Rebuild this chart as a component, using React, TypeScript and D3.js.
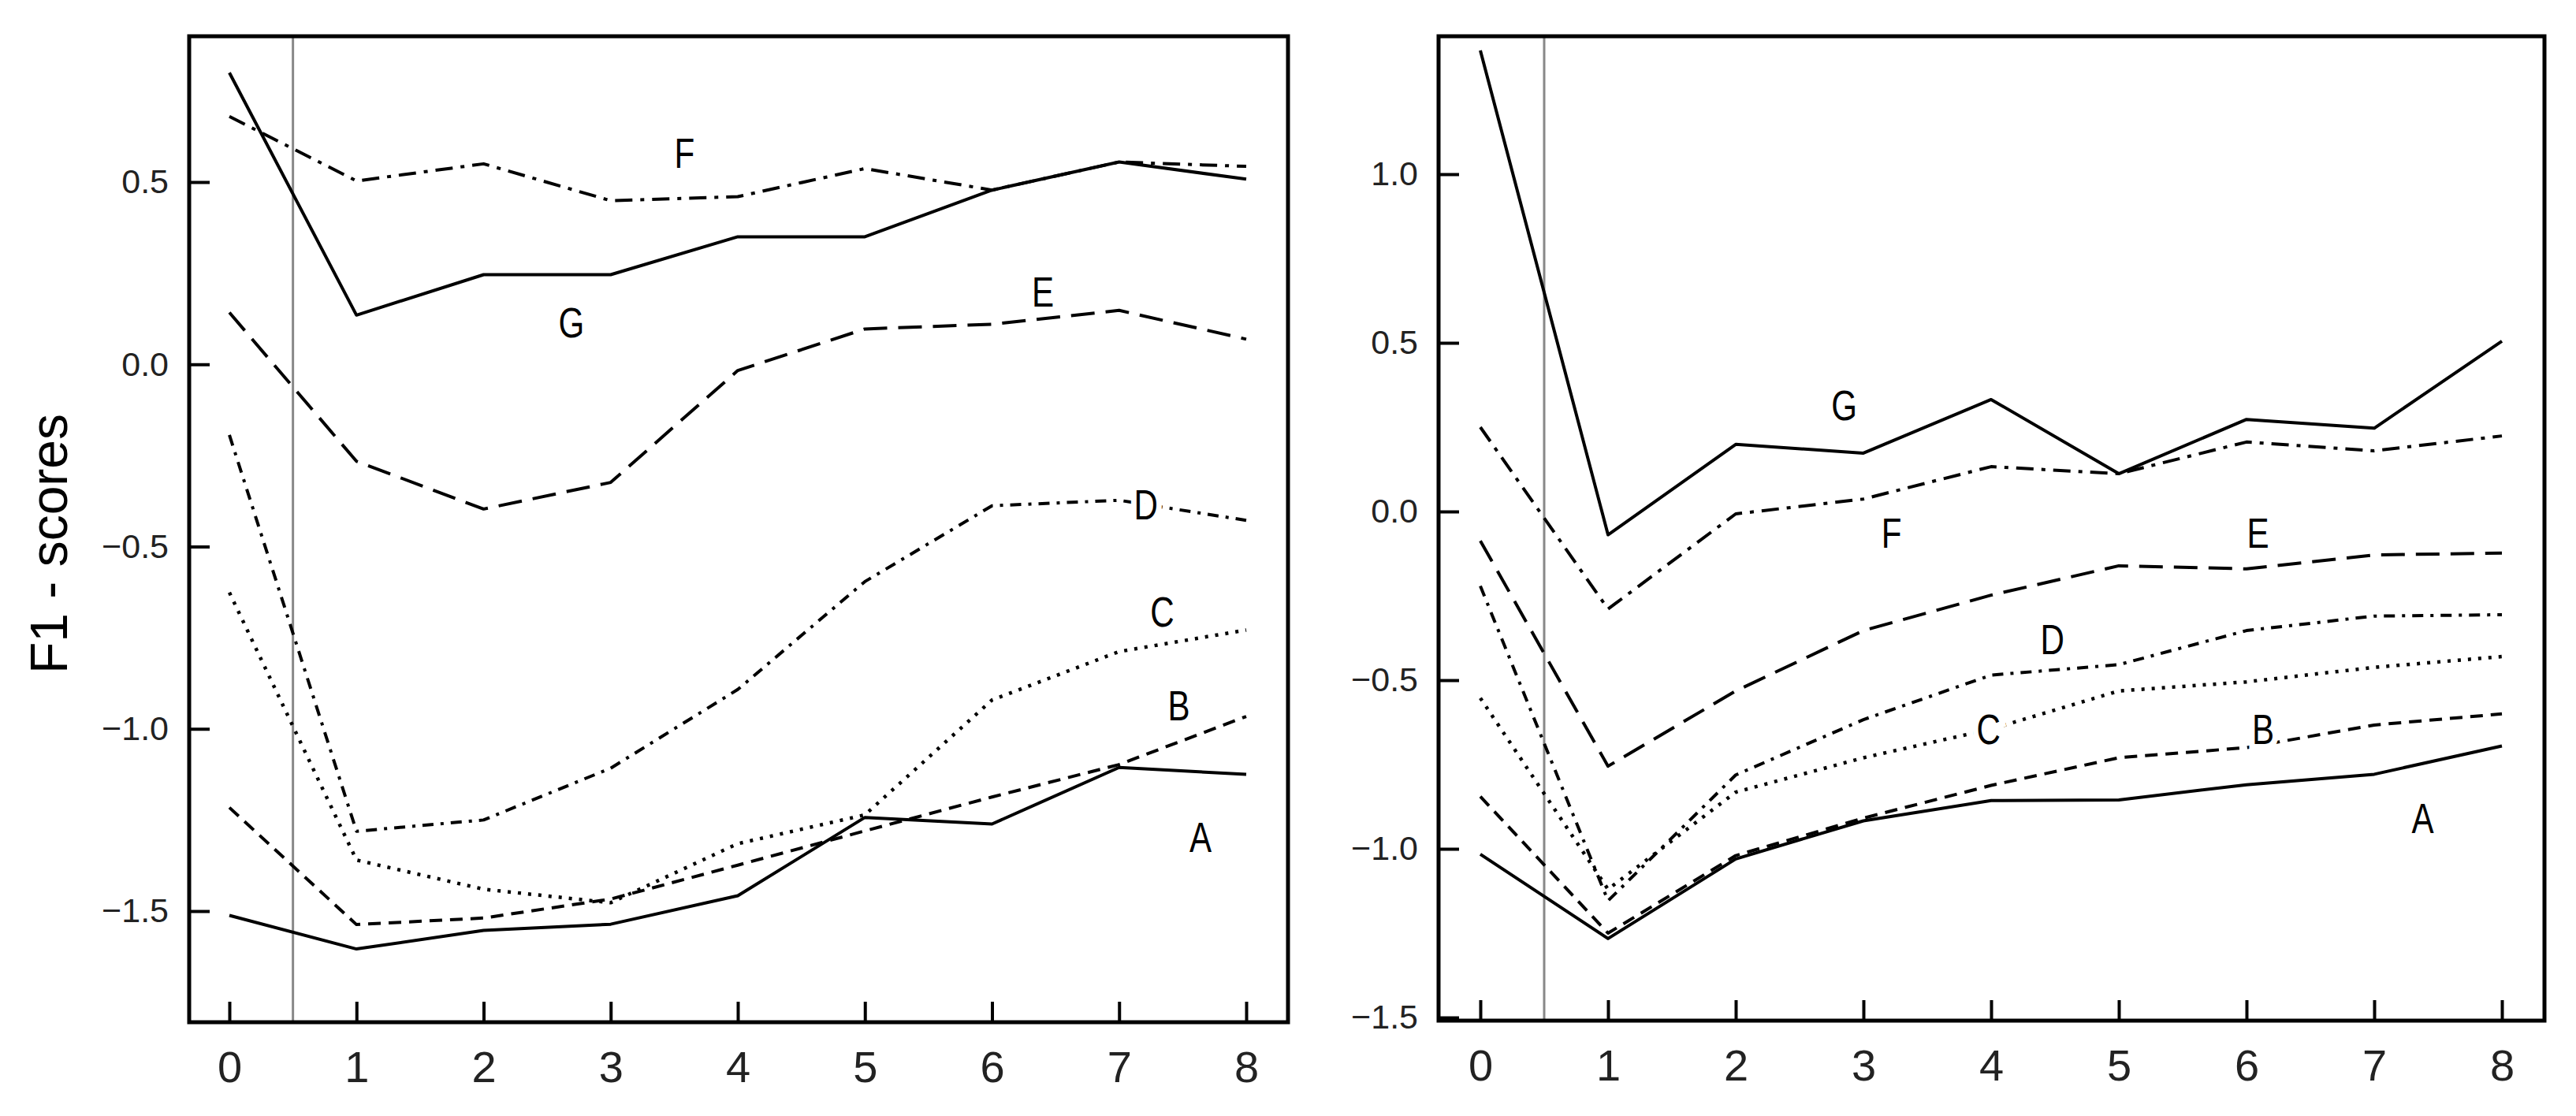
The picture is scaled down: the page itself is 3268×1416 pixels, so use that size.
import React, { useEffect, useRef } from "react";
import * as d3 from "d3";

const W = 3268;
const H = 1416;

const xTicks = [0, 1, 2, 3, 4, 5, 6, 7, 8];
const leftYTicks = [0.5, 0, -0.5, -1.0, -1.5];
const rightYTicks = [1.0, 0.5, 0, -0.5, -1.0, -1.5];
const seriesNames = ["A", "B", "C", "D", "E", "F", "G"];

// left panel
const leftA = [-1.512, -1.604, -1.553, -1.536, -1.458, -1.243, -1.261, -1.106, -1.125];
const leftB = [-1.216, -1.537, -1.519, -1.467, -1.374, -1.28, -1.187, -1.098, -0.966];
const leftC = [-0.626, -1.36, -1.44, -1.477, -1.315, -1.236, -0.921, -0.788, -0.729];
const leftD = [-0.194, -1.281, -1.25, -1.108, -0.892, -0.596, -0.388, -0.373, -0.428];
const leftE = [0.142, -0.266, -0.397, -0.324, -0.017, 0.097, 0.11, 0.148, 0.069];
const leftF = [0.68, 0.503, 0.55, 0.449, 0.46, 0.537, 0.478, 0.555, 0.543];
const leftG = [0.8, 0.135, 0.246, 0.246, 0.35, 0.35, 0.478, 0.555, 0.508];

// right panel
const rightA = [-1.016, -1.266, -1.03, -0.917, -0.857, -0.855, -0.81, -0.779, -0.695];
const rightB = [-0.845, -1.25, -1.02, -0.909, -0.812, -0.73, -0.7, -0.633, -0.6];
const rightC = [-0.553, -1.12, -0.832, -0.73, -0.645, -0.532, -0.505, -0.462, -0.43];
const rightD = [-0.221, -1.154, -0.781, -0.617, -0.485, -0.454, -0.353, -0.31, -0.306];
const rightE = [-0.087, -0.755, -0.532, -0.353, -0.248, -0.161, -0.17, -0.129, -0.123];
const rightF = [0.25, -0.289, -0.007, 0.037, 0.133, 0.112, 0.206, 0.18, 0.224];
const rightG = [1.367, -0.069, 0.199, 0.173, 0.332, 0.112, 0.273, 0.247, 0.505];

// label anchor points, in data units
const leftLabelX = [7.64, 7.47, 7.34, 7.21, 6.4, 3.58, 2.69];
const leftLabelY = [-1.297, -0.935, -0.678, -0.385, 0.2, 0.58, 0.115];
const rightLabelX = [7.38, 6.13, 3.98, 4.48, 6.09, 3.22, 2.85];
const rightLabelY = [-0.91, -0.645, -0.645, -0.378, -0.064, -0.064, 0.315];

const DASH: Record<string, string> = {
  A: "none",
  B: "16,10",
  C: "4,9",
  D: "14,9,4,9",
  E: "30,14",
  F: "22,10,5,10",
  G: "none",
};

const FONT = "'Liberation Sans', Arial, sans-serif";

type PanelProps = {
  frame: { x0: number; x1: number; y0: number; y1: number };
  xRange: [number, number];
  yDomain: [number, number];
  yRange: [number, number];
  yTicks: number[];
  series: number[][];
  labelX: number[];
  labelY: number[];
};

const Panel = ({ frame, xRange, yDomain, yRange, yTicks, series, labelX, labelY }: PanelProps) => {
  const axesRef = useRef<SVGGElement>(null);
  const x = d3.scaleLinear().domain([0, 8]).range(xRange);
  const y = d3.scaleLinear().domain(yDomain).range(yRange);

  useEffect(() => {
    const g = d3.select(axesRef.current);
    g.selectAll("*").remove();

    const xAxis = d3
      .axisBottom(x)
      .tickValues(xTicks)
      .tickFormat(d3.format("d"))
      .tickSizeInner(-26)
      .tickSizeOuter(0)
      .tickPadding(36);
    const xg = g.append("g").attr("transform", `translate(0,${frame.y1})`).call(xAxis);

    const yAxis = d3
      .axisLeft(y)
      .tickValues(yTicks)
      .tickFormat(d3.format(".1f"))
      .tickSizeInner(-26)
      .tickSizeOuter(0)
      .tickPadding(26);
    const yg = g.append("g").attr("transform", `translate(${frame.x0},0)`).call(yAxis);

    [xg, yg].forEach((a) => {
      a.select(".domain").remove();
      a.selectAll(".tick line").attr("stroke", "#000").attr("stroke-width", 4);
      a.selectAll(".tick text").attr("fill", "#222").attr("font-family", FONT);
    });
    xg.selectAll(".tick text").attr("font-size", 56).attr("dy", "0.71em");
    yg.selectAll(".tick text").attr("font-size", 43);
  }, []);

  const line = d3
    .line<number>()
    .x((_, i) => x(xTicks[i]))
    .y((d) => y(d));

  return (
    <g>
      <line
        x1={x(0.5)}
        x2={x(0.5)}
        y1={frame.y0}
        y2={frame.y1}
        stroke="#888"
        strokeWidth={3}
      />
      {series.map((s, i) => (
        <path
          key={seriesNames[i]}
          d={line(s) || ""}
          fill="none"
          stroke="#000"
          strokeWidth={seriesNames[i] === "C" ? 4.5 : 4}
          strokeDasharray={DASH[seriesNames[i]]}
          strokeLinejoin="round"
        />
      ))}
      {seriesNames.map((n, i) => (
        <text
          key={n}
          x={x(labelX[i])}
          y={y(labelY[i])}
          textAnchor="middle"
          dominantBaseline="central"
          fontFamily={FONT}
          fontSize={54}
          fill="#000"
          stroke="#fff"
          strokeWidth={18}
          paintOrder="stroke"
          transform={`translate(${x(labelX[i])},${y(labelY[i])}) scale(0.78,1) translate(${-x(labelX[i])},${-y(labelY[i])})`}
        >
          {n}
        </text>
      ))}
      <g ref={axesRef} />
      <rect
        x={frame.x0}
        y={frame.y0}
        width={frame.x1 - frame.x0}
        height={frame.y1 - frame.y0}
        fill="none"
        stroke="#000"
        strokeWidth={5}
      />
    </g>
  );
};

export default function App() {
  return (
    <svg
      width={W}
      height={H}
      style={{ position: "absolute", left: 0, top: 0, background: "#fff" }}
    >
      <rect width={W} height={H} fill="#fff" />
      <text
        transform="translate(62,690) rotate(-90)"
        textAnchor="middle"
        dominantBaseline="central"
        fontFamily={FONT}
        fontSize={66}
        fill="#000"
      >
        F1 - scores
      </text>
      <Panel
        frame={{ x0: 240, x1: 1634, y0: 46, y1: 1297 }}
        xRange={[291, 1581]}
        yDomain={[0.5, -1.5]}
        yRange={[231, 1156]}
        yTicks={leftYTicks}
        series={[leftA, leftB, leftC, leftD, leftE, leftF, leftG]}
        labelX={leftLabelX}
        labelY={leftLabelY}
      />
      <Panel
        frame={{ x0: 1825, x1: 3228, y0: 46, y1: 1295 }}
        xRange={[1878, 3174]}
        yDomain={[1.0, -1.5]}
        yRange={[221, 1291]}
        yTicks={rightYTicks}
        series={[rightA, rightB, rightC, rightD, rightE, rightF, rightG]}
        labelX={rightLabelX}
        labelY={rightLabelY}
      />
    </svg>
  );
}
